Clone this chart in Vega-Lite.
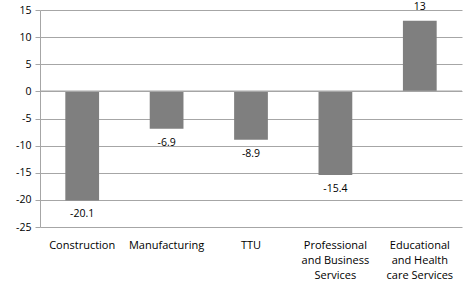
{
  "$schema": "https://vega.github.io/schema/vega-lite/v6.json",
  "autosize": "none",
  "width": 422,
  "height": 217,
  "padding": {"left": 40, "top": 10, "right": 4, "bottom": 68},
  "background": "white",
  "config": {
    "view": {"stroke": null},
    "font": "Open Sans",
    "axis": {"labelFont": "Open Sans", "labelColor": "#000000", "labelFontSize": 11},
    "axisY": {"labelOverlap": false}
  },
  "data": {
    "values": [
      {"sector": "Construction", "change": -20.1},
      {"sector": "Manufacturing", "change": -6.9},
      {"sector": "TTU", "change": -8.9},
      {"sector": "Professional and Business Services", "change": -15.4},
      {"sector": "Educational and Health care Services", "change": 13}
    ]
  },
  "encoding": {
    "x": {
      "field": "sector",
      "type": "nominal",
      "sort": null,
      "scale": {"paddingInner": 0.6, "paddingOuter": 0.3},
      "axis": {
        "title": null,
        "orient": "bottom",
        "labelAngle": 0,
        "domain": false,
        "ticks": false,
        "labelPadding": 12,
        "labelLineHeight": 15,
        "labelExpr": "datum.value == 'Professional and Business Services' ? ['Professional', 'and Business', 'Services'] : datum.value == 'Educational and Health care Services' ? ['Educational', 'and Health', 'care Services'] : datum.value"
      }
    },
    "y": {
      "field": "change",
      "type": "quantitative",
      "scale": {"domain": [-25, 15], "nice": false},
      "axis": {
        "title": null,
        "values": [-25, -20, -15, -10, -5, 0, 5, 10, 15],
        "labelOverlap": false,
        "labelExpr": "toString(datum.value)",
        "labelFontSize": 10.5,
        "grid": true,
        "gridColor": "#a6a6a6",
        "gridWidth": 1,
        "domainColor": "#a6a6a6",
        "tickColor": "#a6a6a6",
        "tickSize": 5,
        "labelPadding": 4
      }
    }
  },
  "layer": [
    {
      "mark": {"type": "bar", "color": "#7f7f7f"}
    },
    {
      "mark": {"type": "rule", "color": "#a6a6a6"},
      "encoding": {"y": {"datum": 0, "type": "quantitative"}, "x": {"value": 0}, "x2": {"value": 422}}
    },
    {
      "transform": [{"filter": "datum.change < 0"}],
      "mark": {"type": "text", "dy": 14, "fontSize": 10.5, "color": "#000000"},
      "encoding": {
        "text": {"field": "change", "type": "nominal"}
      }
    },
    {
      "transform": [{"filter": "datum.change >= 0"}],
      "mark": {"type": "text", "dy": -14, "fontSize": 10.5, "color": "#000000"},
      "encoding": {
        "text": {"field": "change", "type": "nominal"}
      }
    }
  ]
}
